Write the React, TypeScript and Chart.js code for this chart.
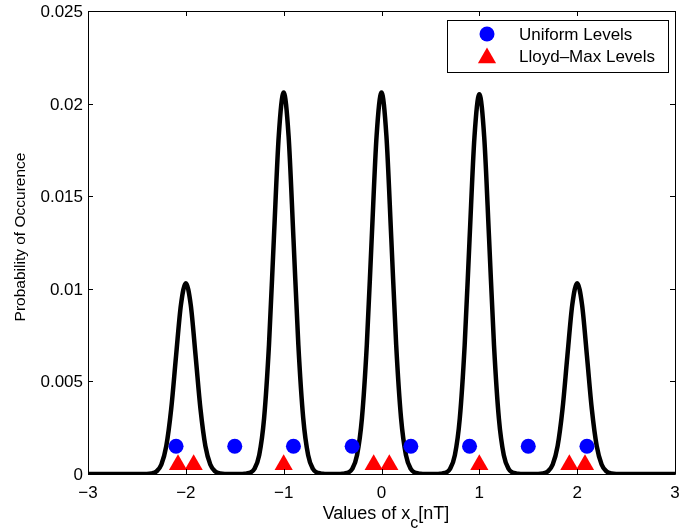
import { useEffect, useRef } from "react";
import { Chart, registerables } from "chart.js";

Chart.register(...registerables);

const FONT = '"Liberation Sans", Arial, Helvetica, sans-serif';

const xTicks = [-3, -2, -1, 0, 1, 2, 3];
const yTicks = [0, 0.005, 0.01, 0.015, 0.02, 0.025];
const xTickLabels = ["\u22123", "\u22122", "\u22121", "0", "1", "2", "3"];
const yTickLabels = ["0", "0.005", "0.01", "0.015", "0.02", "0.025"];

const uniformX = [-2.1, -1.5, -0.9, -0.3, 0.3, 0.9, 1.5, 2.1];
const uniformY = [0.0015, 0.0015, 0.0015, 0.0015, 0.0015, 0.0015, 0.0015, 0.0015];

const lloydX = [-2.08, -1.92, -1, -0.08, 0.08, 1, 1.92, 2.08];
const lloydY = [0.0005, 0.0005, 0.0005, 0.0005, 0.0005, 0.0005, 0.0005, 0.0005];

const curveX = [
  -3,
  -2.45, -2.4, -2.35, -2.3, -2.25, -2.2, -2.15, -2.1, -2.05, -2, -1.95, -1.9, -1.85, -1.8, -1.75, -1.7, -1.65, -1.6, -1.55,
  -1.45, -1.4, -1.35, -1.3, -1.25, -1.2, -1.15, -1.1, -1.05, -1, -0.95, -0.9, -0.85, -0.8, -0.75, -0.7, -0.65, -0.6, -0.55,
  -0.45, -0.4, -0.35, -0.3, -0.25, -0.2, -0.15, -0.1, -0.05, 0, 0.05, 0.1, 0.15, 0.2, 0.25, 0.3, 0.35, 0.4, 0.45,
  0.55, 0.6, 0.65, 0.7, 0.75, 0.8, 0.85, 0.9, 0.95, 1, 1.05, 1.1, 1.15, 1.2, 1.25, 1.3, 1.35, 1.4, 1.45,
  1.55, 1.6, 1.65, 1.7, 1.75, 1.8, 1.85, 1.9, 1.95, 2, 2.05, 2.1, 2.15, 2.2, 2.25, 2.3, 2.35, 2.4, 2.45,
  3,
];
const curveY = [
  0,
  0, 0, 0.00003, 0.00014, 0.00051, 0.0015, 0.00349, 0.00637, 0.00914, 0.0103, 0.00914, 0.00637, 0.00349, 0.0015, 0.00051, 0.00014, 0.00003, 0, 0,
  0, 0.00001, 0.00006, 0.00027, 0.00102, 0.00301, 0.00698, 0.01273, 0.01827, 0.0206, 0.01827, 0.01273, 0.00698, 0.00301, 0.00102, 0.00027, 0.00006, 0.00001, 0,
  0, 0.00001, 0.00006, 0.00027, 0.00102, 0.00301, 0.00698, 0.01273, 0.01827, 0.0206, 0.01827, 0.01273, 0.00698, 0.00301, 0.00102, 0.00027, 0.00006, 0.00001, 0,
  0, 0.00001, 0.00006, 0.00027, 0.00102, 0.00299, 0.00695, 0.01267, 0.01818, 0.0205, 0.01818, 0.01267, 0.00695, 0.00299, 0.00102, 0.00027, 0.00006, 0.00001, 0,
  0, 0, 0.00003, 0.00014, 0.00051, 0.0015, 0.00349, 0.00637, 0.00914, 0.0103, 0.00914, 0.00637, 0.00349, 0.0015, 0.00051, 0.00014, 0.00003, 0, 0,
  0,
];

const legendLabels = ["Uniform Levels", "Lloyd\u2013Max Levels"];
const xTitleParts = ["Values of x", "c", "[nT]"];
const yTitle = "Probability of Occurence";

const framePlugin = {
  id: "frame",
  afterDraw(chart: any) {
    const { ctx, chartArea, scales } = chart;
    const { left, right, top, bottom } = chartArea;
    ctx.save();
    ctx.strokeStyle = "#000";
    ctx.lineWidth = 1;
    ctx.beginPath();
    ctx.rect(Math.round(left) + 0.5, Math.round(top) + 0.5, Math.round(right - left), Math.round(bottom - top));
    ctx.stroke();
    const tl = 5;
    ctx.beginPath();
    xTicks.forEach((v) => {
      const px = Math.round(scales.x.getPixelForValue(v)) + 0.5;
      ctx.moveTo(px, bottom);
      ctx.lineTo(px, bottom - tl);
      ctx.moveTo(px, top);
      ctx.lineTo(px, top + tl);
    });
    yTicks.forEach((v) => {
      const py = Math.round(scales.y.getPixelForValue(v)) + 0.5;
      ctx.moveTo(left, py);
      ctx.lineTo(left + tl, py);
      ctx.moveTo(right, py);
      ctx.lineTo(right - tl, py);
    });
    ctx.stroke();

    // tick labels
    ctx.fillStyle = "#000";
    ctx.font = `17px ${FONT}`;
    ctx.textBaseline = "alphabetic";
    ctx.textAlign = "center";
    xTicks.forEach((v, i) => {
      ctx.fillText(xTickLabels[i], scales.x.getPixelForValue(v), bottom + 23.5);
    });
    ctx.textAlign = "right";
    yTicks.forEach((v, i) => {
      ctx.fillText(yTickLabels[i], left - 5, scales.y.getPixelForValue(v) + 6);
    });

    // axis titles
    ctx.textAlign = "left";
    const mainFont = `18px ${FONT}`;
    const subFont = `16px ${FONT}`;
    ctx.font = mainFont;
    const w1 = ctx.measureText(xTitleParts[0]).width;
    const w3 = ctx.measureText(xTitleParts[2]).width;
    ctx.font = subFont;
    const w2 = ctx.measureText(xTitleParts[1]).width;
    const total = w1 + w2 + w3;
    let sx = (left + right) / 2 + 4.5 - total / 2;
    const base = 518.5;
    ctx.font = mainFont;
    ctx.fillText(xTitleParts[0], sx, base);
    sx += w1;
    ctx.font = subFont;
    ctx.fillText(xTitleParts[1], sx, base + 9);
    sx += w2;
    ctx.font = mainFont;
    ctx.fillText(xTitleParts[2], sx, base);

    ctx.save();
    ctx.translate(21, 237);
    ctx.rotate(-Math.PI / 2);
    ctx.font = `15.5px ${FONT}`;
    ctx.textAlign = "center";
    ctx.textBaseline = "middle";
    ctx.fillText(yTitle, 0, 0);
    ctx.restore();

    // legend
    const lx = 447.5, ly = 20.5, lw = 221, lh = 52;
    ctx.fillStyle = "#fff";
    ctx.fillRect(lx, ly, lw, lh);
    ctx.strokeStyle = "#000";
    ctx.lineWidth = 1;
    ctx.strokeRect(lx, ly, lw, lh);
    ctx.fillStyle = "#0000ff";
    ctx.beginPath();
    ctx.arc(487, 34, 7.5, 0, Math.PI * 2);
    ctx.fill();
    ctx.fillStyle = "#ff0000";
    const r = 10.5;
    const cy = 58;
    ctx.beginPath();
    ctx.moveTo(487, cy - r);
    ctx.lineTo(487 + Math.sin((2 * Math.PI) / 3) * r, cy + r / 2);
    ctx.lineTo(487 - Math.sin((2 * Math.PI) / 3) * r, cy + r / 2);
    ctx.closePath();
    ctx.fill();
    ctx.fillStyle = "#000";
    ctx.font = `17px ${FONT}`;
    ctx.textAlign = "left";
    ctx.textBaseline = "middle";
    ctx.fillText(legendLabels[0], 519, 35);
    ctx.fillText(legendLabels[1], 519, 57);
    ctx.restore();
  },
};

export default function App() {
  const ref = useRef<HTMLCanvasElement | null>(null);
  useEffect(() => {
    if (!ref.current) return;
    const chart = new Chart(ref.current, {
      type: "scatter",
      data: {
        datasets: [
          {
            label: "curve",
            data: curveX.map((x, i) => ({ x, y: curveY[i] })),
            showLine: true,
            borderColor: "#000",
            borderWidth: 4.5,
            pointRadius: 0,
            cubicInterpolationMode: "monotone",
            clip: 0,
            order: 3,
          } as any,
          {
            label: legendLabels[0],
            data: uniformX.map((x, i) => ({ x, y: uniformY[i] })),
            pointStyle: "circle",
            pointRadius: 7.5,
            backgroundColor: "#0000ff",
            borderWidth: 0,
            order: 2,
          },
          {
            label: legendLabels[1],
            data: lloydX.map((x, i) => ({ x, y: lloydY[i] })),
            pointStyle: "triangle",
            pointRadius: 10.5,
            backgroundColor: "#ff0000",
            borderWidth: 0,
            order: 1,
          },
        ],
      },
      options: {
        animation: false,
        responsive: true,
        maintainAspectRatio: false,
        layout: { autoPadding: false, padding: { left: 0, top: 11, right: 6, bottom: 0 } },
        plugins: { legend: { display: false }, tooltip: { enabled: false } },
        events: [],
        scales: {
          x: {
            type: "linear",
            min: -3,
            max: 3,
            afterBuildTicks: (s: any) => {
              s.ticks = xTicks.map((v) => ({ value: v }));
            },
            afterFit: (s: any) => {
              s.height = 57;
            },
            grid: { display: false, drawTicks: false },
            border: { display: false },
            ticks: { display: false },
          },
          y: {
            type: "linear",
            min: 0,
            max: 0.025,
            afterBuildTicks: (s: any) => {
              s.ticks = yTicks.map((v) => ({ value: v }));
            },
            afterFit: (s: any) => {
              s.width = 88;
            },
            grid: { display: false, drawTicks: false },
            border: { display: false },
            ticks: { display: false },
          },
        },
      },
      plugins: [framePlugin],
    });
    return () => chart.destroy();
  }, []);
  return (
    <div style={{ position: "fixed", left: 0, top: 0, width: 681, height: 531, background: "#fff" }}>
      <canvas ref={ref} />
    </div>
  );
}
